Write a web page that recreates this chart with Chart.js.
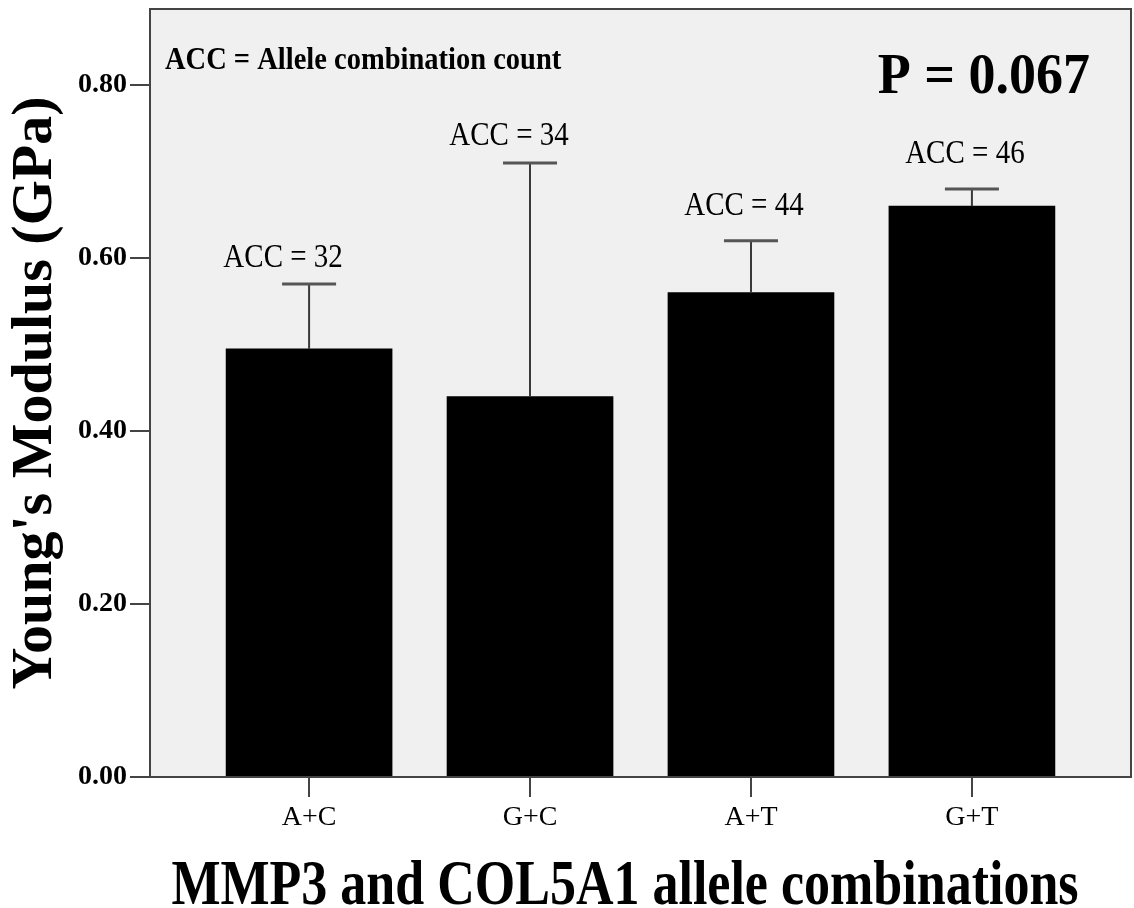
<!DOCTYPE html>
<html>
<head>
<meta charset="utf-8">
<script src="https://cdn.jsdelivr.net/npm/chart.js@4/dist/chart.umd.min.js"></script>
<style>
  html, body { margin: 0; padding: 0; background: #ffffff; }
  #wrap { width: 1134px; height: 908px; }
</style>
</head>
<body>
<div id="wrap"><canvas id="chart" width="1134" height="908"></canvas></div>
<script>
// Allele combinations and their mean Young's modulus (GPa)
const categories = ['A+C', 'G+C', 'A+T', 'G+T'];
const meanModulus = [0.495, 0.44, 0.56, 0.66];
// Upper end of each error bar (GPa)
const upperError = [0.57, 0.71, 0.62, 0.68];
// Allele combination counts shown above each bar
const alleleCounts = [32, 34, 44, 46];
// Y axis tick values
const yTicks = [0.0, 0.2, 0.4, 0.6, 0.8];

// Hand placement of the count labels relative to each error-bar cap (px)
const countLabelShiftX = [-26, -21, -7, -7];
const countLabelLift = [17, 18, 26, 26];

const SERIF = '"Liberation Serif", "Times New Roman", serif';
const AXIS_COLOR = '#444444';

// Draw text with an optional vertical stretch factor k
function drawText(ctx, text, x, y, font, align, k) {
  ctx.save();
  ctx.translate(x, y);
  ctx.scale(1, k);
  ctx.font = font;
  ctx.textAlign = align;
  ctx.textBaseline = 'alphabetic';
  ctx.fillStyle = '#000';
  ctx.fillText(text, 0, 0);
  ctx.restore();
}

const plotDecor = {
  id: 'plotDecor',
  beforeDraw(chart) {
    const { ctx, chartArea: a } = chart;
    ctx.save();
    ctx.fillStyle = '#f0f0f0';
    ctx.fillRect(a.left, a.top, a.right - a.left, a.bottom - a.top);
    ctx.restore();
  },
  afterDatasetsDraw(chart) {
    const { ctx } = chart;
    const xs = chart.scales.x, ys = chart.scales.y;
    categories.forEach((c, i) => {
      const x = xs.getPixelForValue(i);
      const yTop = ys.getPixelForValue(meanModulus[i]);
      const yErr = ys.getPixelForValue(upperError[i]);
      ctx.save();
      // vertical whisker
      ctx.strokeStyle = '#3a3a3a';
      ctx.lineWidth = 2;
      ctx.beginPath();
      ctx.moveTo(x, yTop);
      ctx.lineTo(x, yErr);
      ctx.stroke();
      // cap
      ctx.lineWidth = 3;
      ctx.strokeStyle = '#555555';
      ctx.beginPath();
      ctx.moveTo(x - 27, yErr);
      ctx.lineTo(x + 27, yErr);
      ctx.stroke();
      ctx.restore();
      // count label
      drawText(ctx, 'ACC = ' + alleleCounts[i], x + countLabelShiftX[i], yErr - countLabelLift[i],
               '29px ' + SERIF, 'center', 1.14);
    });
  },
  afterDraw(chart) {
    const { ctx, chartArea: a } = chart;
    ctx.save();
    // plot frame
    ctx.strokeStyle = AXIS_COLOR;
    ctx.lineWidth = 2;
    ctx.strokeRect(a.left, a.top, a.right - a.left, a.bottom - a.top);
    ctx.restore();

    // note and p-value inside the plot
    drawText(ctx, 'ACC = Allele combination count', a.left + 15, 69, 'bold 28.5px ' + SERIF, 'left', 1.1);
    drawText(ctx, 'P = 0.067', a.right - 41, 93, 'bold 54px ' + SERIF, 'right', 1.07);
    // x axis title
    drawText(ctx, 'MMP3 and COL5A1 allele combinations', 625, 904, 'bold 52px ' + SERIF, 'center', 1.22);
    // y axis title
    ctx.save();
    ctx.translate(51, 393);
    ctx.rotate(-Math.PI / 2);
    ctx.font = 'bold 58px ' + SERIF;
    ctx.textAlign = 'center';
    ctx.textBaseline = 'alphabetic';
    ctx.fillStyle = '#000';
    ctx.fillText("Young's Modulus (GPa)", 0, 0);
    ctx.restore();
  }
};

new Chart(document.getElementById('chart'), {
  type: 'bar',
  data: {
    datasets: [{
      data: meanModulus.map((v, i) => ({ x: i, y: v })),
      backgroundColor: '#000000',
      borderWidth: 0,
      barThickness: 166
    }]
  },
  options: {
    responsive: false,
    animation: false,
    devicePixelRatio: 1,
    layout: { padding: { top: 9, right: 3, left: 0, bottom: 0 } },
    plugins: { legend: { display: false }, tooltip: { enabled: false } },
    scales: {
      x: {
        type: 'linear',
        offset: false,
        min: -0.72,
        max: 3.72,
        afterBuildTicks: s => { s.ticks = categories.map((_, i) => ({ value: i })); },
        afterFit: s => { s.height = 131; s.paddingLeft = 0; s.paddingRight = 0; },
        ticks: {
          callback: v => categories[v],
          font: { family: SERIF, size: 28 },
          color: '#000',
          padding: 4,
          maxRotation: 0,
          autoSkip: false
        },
        grid: { offset: false, drawOnChartArea: false, drawTicks: true, tickLength: 20, color: AXIS_COLOR, lineWidth: 2 },
        border: { display: true, color: AXIS_COLOR, width: 2 }
      },
      y: {
        min: 0,
        max: 0.888,
        afterBuildTicks: s => { s.ticks = yTicks.map(v => ({ value: v })); },
        afterFit: s => { s.width = 150; s.paddingTop = 0; s.paddingBottom = 0; },
        ticks: {
          callback: v => v.toFixed(2),
          font: { family: SERIF, size: 28, weight: 'bold' },
          color: '#000',
          padding: 3
        },
        grid: { drawOnChartArea: false, drawTicks: true, tickLength: 20, color: AXIS_COLOR, lineWidth: 2 },
        border: { display: true, color: AXIS_COLOR, width: 2 }
      }
    }
  },
  plugins: [plotDecor]
});
</script>
</body>
</html>
